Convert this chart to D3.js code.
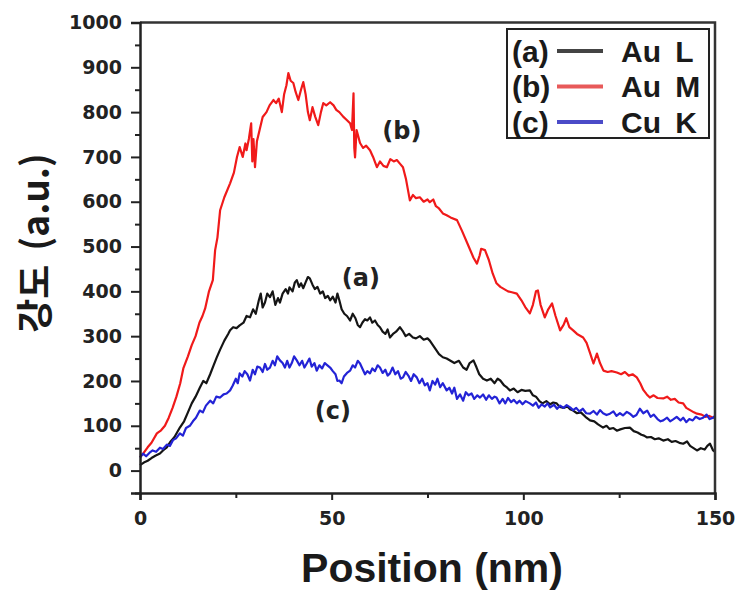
<!DOCTYPE html>
<html>
<head>
<meta charset="utf-8">
<script src="https://cdn.jsdelivr.net/npm/d3@7"></script>
<style>
  body { margin: 0; background: #fff; }
  svg { display: block; }
  .tick-label { font-family: "DejaVu Sans", sans-serif; font-weight: bold; font-size: 19px; fill: #222; }
</style>
</head>
<body>
<svg width="741" height="596"></svg>
<script>
// series: [position nm, intensity a.u.]
var seriesNames = ["(a)", "(b)", "(c)"];
var seriesLabels = ["Au L", "Au M", "Cu K"];
var seriesColors = ["#151515", "#f01a1a", "#2323d6"];
var legendColors = ["#444444", "#e85a5a", "#4b4bc8"];

var auL = [[0,12],[1,18],[2,22],[3,28],[4,33],[5.2,38],[6,45],[7,52],[8,65],[9,75],[10.4,96],[11.5,110],[12.5,130],[13.5,150],[14.5,165],[15.6,185],[16.5,200],[17.3,195],[18.3,215],[19.2,235],[20,252],[20.9,270],[22,290],[23,305],[23.5,313],[24.3,320],[25.2,318],[26,324],[27,330],[27.8,345],[28.7,342],[29.5,360],[30.2,350],[31,380],[31.5,395],[32,364],[32.6,375],[33.2,395],[33.9,387],[34.6,400],[35.3,370],[36,385],[36.5,375],[37.2,395],[38,405],[38.6,395],[39,409],[39.8,400],[40.4,420],[40.9,425],[41.5,410],[42,418],[42.6,407],[43.2,420],[43.8,432],[44.3,429],[45,415],[45.6,405],[46.3,410],[47,395],[47.7,400],[48.3,385],[49,390],[49.6,380],[50.3,388],[51,375],[51.5,395],[52,380],[52.6,360],[53.3,350],[54,345],[54.8,335],[55.5,350],[56.2,340],[56.8,325],[57.4,320],[58,330],[58.7,338],[59.3,335],[60,342],[60.6,330],[61.3,335],[62,325],[62.6,320],[63.3,310],[64,305],[64.6,315],[65.2,297],[66,305],[66.8,310],[67.8,320],[68.5,312],[69.3,300],[70.2,305],[71.2,297],[72,295],[73,300],[74,292],[75,295],[75.6,290],[76.4,280],[77.2,270],[78,260],[79,253],[80,250],[81,245],[82,240],[83.2,245],[84.3,230],[85.2,225],[86,240],[87,246],[87.8,230],[88.5,215],[89.5,205],[90.5,201],[91.5,205],[92.5,195],[93.3,205],[94,201],[95,190],[95.8,185],[96.5,179],[97.5,183],[98.5,175],[99.5,180],[100.5,178],[101.7,179],[102.5,168],[103.3,165],[104.2,155],[105,150],[106,155],[107,148],[107.8,152],[108.7,150],[109.5,142],[110.5,140],[111.5,143],[112.2,137],[113,134],[114,128],[115,130],[116.2,120],[117.4,112],[118.5,110],[119.5,103],[120.8,96],[121.7,100],[122.5,93],[123.5,95],[124.4,89],[125.3,92],[126.5,95],[127.8,96],[128.8,88],[129.8,85],[130.8,80],[131.5,78],[132.3,74],[133.3,75],[134.3,70],[135.3,72],[136.5,67],[137.7,70],[138.7,64],[139.7,66],[140.7,62],[141.7,60],[142.7,65],[143.5,55],[144.4,50],[145.3,45],[146.3,50],[147.3,47],[148,55],[148.7,60],[149.5,45],[150,42]];

var auM = [[0,30],[1,40],[2,52],[3,62],[4.4,83],[5.5,90],[6.5,100],[7.5,118],[8.5,140],[9.5,165],[10.5,195],[11.3,228],[12.5,255],[13.5,280],[14.5,300],[15.5,330],[16.3,345],[17,362],[18,400],[19,425],[19.6,492],[20.2,520],[20.9,581],[22,610],[23.5,641],[24.5,665],[25.3,700],[26,722],[26.8,700],[27.5,730],[27.8,715],[28.4,740],[29,775],[29.3,690],[29.6,740],[30,677],[30.5,735],[31.2,760],[32,789],[33,800],[33.8,815],[34.8,827],[35.5,820],[36.2,830],[37,800],[37.6,840],[38.2,860],[38.7,887],[39.3,870],[40,865],[40.6,845],[41.3,827],[42,850],[42.6,867],[43.2,840],[43.8,800],[44.3,782],[45,811],[45.7,790],[46.5,771],[47.2,800],[47.8,820],[48.6,815],[49.6,822],[50.5,815],[51.2,805],[52,800],[53,790],[54,782],[54.8,775],[55.3,760],[55.7,842],[55.9,720],[56.1,699],[56.5,760],[57.4,731],[58.2,720],[59,725],[60,715],[60.8,700],[61.8,677],[62.6,690],[63.5,680],[64.4,677],[65.3,695],[66.2,690],[67,693],[67.8,685],[68.6,677],[69.4,650],[70.4,603],[71.2,615],[72,608],[73,610],[74,600],[75,605],[75.6,599],[76.5,605],[77.2,590],[78,585],[79,574],[80,570],[81,565],[82.7,559],[84,535],[85.5,505],[87,475],[87.9,462],[88.6,480],[89,495],[90,492],[91,470],[92,440],[93,418],[94,410],[95,405],[96,400],[97,398],[98.3,395],[99.5,380],[100.5,365],[101.7,351],[102.5,370],[103.3,400],[103.8,402],[104.5,370],[105.6,342],[106.5,360],[107.5,373],[108.4,345],[109.6,313],[110.5,325],[111.2,340],[112,320],[113,313],[114,305],[115.6,297],[116.5,285],[117.5,260],[118.3,239],[119.2,261],[120,240],[120.9,223],[122,220],[123,222],[124.4,219],[125.5,215],[126.5,220],[127.5,212],[128.5,215],[129.6,208],[130.5,195],[131.3,180],[132.2,170],[133,163],[134,168],[135,162],[136.5,161],[137.5,165],[138.5,158],[139.5,160],[140.5,152],[141.7,150],[142.5,140],[143.5,135],[144.5,130],[145.3,127],[146.5,125],[147.5,120],[148.5,122],[149.5,118],[150,120]];

var cuK = [[0,29],[0.8,38],[1.6,32],[2.5,40],[3.3,45],[4.2,42],[5.2,51],[6,48],[7,58],[7.8,55],[8.6,68],[9.4,72],[10.4,83],[11.2,78],[12,95],[13,100],[13.8,110],[14.6,118],[15.6,134],[16.4,130],[17.2,145],[18.3,156],[19.1,150],[19.9,165],[20.9,163],[21.8,170],[22.6,172],[23.5,179],[24.2,190],[25,205],[25.5,195],[26,217],[26.7,210],[27.3,222],[28,215],[28.7,201],[29.4,225],[30,215],[30.6,232],[31.3,230],[32,220],[32.6,238],[33.2,225],[33.9,230],[34.6,245],[35.2,235],[35.8,255],[36.5,246],[37.2,240],[37.8,230],[38.4,245],[39,230],[39.6,240],[40.2,255],[40.9,246],[41.6,235],[42.3,245],[42.9,230],[43.5,239],[44.2,250],[44.8,232],[45.5,240],[46.1,223],[46.8,235],[47.5,228],[48.2,240],[48.9,235],[49.6,230],[50.3,222],[51,215],[51.5,200],[52,201],[52.6,195],[53.2,210],[54,218],[54.8,223],[55.5,235],[56.1,230],[56.8,245],[57.4,239],[58,228],[58.7,215],[59.3,222],[60,217],[60.6,228],[61.3,222],[62,235],[62.6,230],[63.3,218],[64,225],[64.6,212],[65.2,217],[65.9,230],[66.6,215],[67.3,222],[68,205],[68.6,208],[69.3,220],[70,212],[70.7,200],[71.4,215],[72.2,208],[72.9,195],[73.6,205],[74.3,190],[75,195],[75.6,179],[76.3,200],[77,192],[77.6,205],[78.3,186],[79,195],[80,179],[80.7,185],[81.4,172],[82,185],[82.7,160],[83.5,170],[84.3,156],[85,175],[85.7,168],[86.5,172],[87.2,160],[88,168],[88.7,163],[89.5,170],[90.3,158],[91,168],[91.8,160],[92.5,165],[93,163],[93.8,150],[94.6,160],[95.3,150],[96,162],[96.8,153],[97.5,158],[98.3,150],[99,156],[99.8,148],[100.6,155],[101.7,150],[102.5,145],[103.3,152],[104,140],[104.8,148],[105.6,143],[106.3,150],[107,141],[108,147],[108.8,138],[109.6,145],[110.5,140],[111.3,146],[112.2,141],[113,135],[113.8,140],[114.6,132],[115.5,138],[116.4,128],[117.4,127],[118.3,133],[119.2,125],[120,135],[120.8,128],[121.7,124],[122.6,127],[123.5,132],[124.3,122],[125.2,128],[126,123],[127,131],[127.8,127],[128.7,120],[129.5,124],[130.4,138],[131.3,128],[132.3,134],[133.2,120],[134,125],[135,115],[135.8,110],[136.5,112],[137.5,118],[138.3,110],[139.2,115],[140,120],[141,112],[141.7,118],[142.5,108],[143.3,115],[144.2,112],[145,120],[146,115],[146.9,118],[147.8,125],[148.6,115],[149.5,118],[150,122]];

var xTicks = [0, 50, 100, 150];
var xMinor = [25, 75, 125];
var yTicks = [0, 100, 200, 300, 400, 500, 600, 700, 800, 900, 1000];
var yMinor = [-50, 50, 150, 250, 350, 450, 550, 650, 750, 850, 950];

// curve tags inside the plot: [position, intensity]
var tagSpots = [[57.6, 431], [68.3, 758], [50.3, 134]];

var svg = d3.select("svg");
var margin = {left: 140, top: 22.5, right: 26, bottom: 103};
var width = 741 - margin.left - margin.right,
    height = 596 - margin.top - margin.bottom;

var x = d3.scaleLinear().domain([0, 150]).range([margin.left, margin.left + width]);
var y = d3.scaleLinear().domain([-50, 1000]).range([margin.top + height, margin.top]);

// lines
var line = d3.line()
    .x(function (d) { return x(d[0]); })
    .y(function (d) { return y(d[1]); });

[auM, auL, cuK].forEach(function (s, i) {
    var idx = [1, 0, 2][i];
    svg.append("path")
        .datum(s)
        .attr("fill", "none")
        .attr("stroke", seriesColors[idx])
        .attr("stroke-width", 2.2)
        .attr("stroke-linejoin", "round")
        .attr("d", line);
});

// frame (top + right)
svg.append("path")
    .attr("d", "M" + x(0) + "," + y(1000) + "H" + x(150) + "V" + y(-50))
    .attr("fill", "none")
    .attr("stroke", "#333")
    .attr("stroke-width", 2.5);

// x axis
svg.append("g")
    .attr("transform", "translate(0," + y(-50) + ")")
    .call(d3.axisBottom(x).tickValues(xTicks).tickSize(7).tickPadding(12).tickFormat(d3.format("d")));
svg.append("g")
    .attr("transform", "translate(0," + y(-50) + ")")
    .call(d3.axisBottom(x).tickValues(xMinor).tickSize(5).tickFormat(""))
    .select(".domain").remove();

// y axis
svg.append("g")
    .attr("transform", "translate(" + x(0) + ",0)")
    .call(d3.axisLeft(y).tickValues(yTicks).tickSize(9).tickPadding(9).tickFormat(d3.format("d")));
svg.append("g")
    .attr("transform", "translate(" + x(0) + ",0)")
    .call(d3.axisLeft(y).tickValues(yMinor).tickSize(5).tickFormat(""))
    .select(".domain").remove();

svg.selectAll(".domain").attr("stroke", "#222").attr("stroke-width", 2.5);
svg.selectAll(".tick line").attr("stroke", "#222").attr("stroke-width", 2);
svg.selectAll(".tick text").attr("class", "tick-label").attr("font-family", null).attr("font-size", null);

// axis titles
svg.append("text")
    .attr("x", 432)
    .attr("y", 582)
    .attr("text-anchor", "middle")
    .attr("font-family", "Liberation Sans, sans-serif")
    .attr("font-weight", "bold")
    .attr("font-size", 41)
    .attr("fill", "#1a1a1a")
    .text("Position (nm)");

var yTitle = svg.append("text")
    .attr("transform", "translate(49,243) rotate(-90)")
    .attr("text-anchor", "middle")
    .attr("font-family", "Noto Sans CJK KR, sans-serif")
    .attr("font-weight", "bold")
    .attr("font-size", 37)
    .attr("fill", "#1a1a1a");
yTitle.append("tspan").text("강도");
yTitle.append("tspan").attr("dx", 14).text("(a.u.)");

// curve tags
svg.selectAll(".tag")
    .data(tagSpots)
    .enter().append("text")
    .attr("class", "tag")
    .attr("x", function (d) { return x(d[0]); })
    .attr("y", function (d) { return y(d[1]); })
    .attr("dy", "0.35em")
    .attr("text-anchor", "middle")
    .attr("font-family", "DejaVu Sans, sans-serif")
    .attr("font-weight", "bold")
    .attr("font-size", 24)
    .attr("fill", "#222")
    .text(function (d, i) { return seriesNames[i]; });

// legend
var legend = svg.append("g").attr("transform", "translate(507,29)");
legend.append("rect")
    .attr("width", 202).attr("height", 109)
    .attr("fill", "#fff").attr("stroke", "#222").attr("stroke-width", 2);

var rows = legend.selectAll(".row")
    .data(seriesNames)
    .enter().append("g")
    .attr("class", "row")
    .attr("transform", function (d, i) { return "translate(0," + (22 + i * 35.5) + ")"; });

rows.append("text")
    .attr("x", 5)
    .attr("dy", "0.35em")
    .attr("font-family", "Liberation Sans, sans-serif")
    .attr("font-weight", "bold")
    .attr("font-size", 30)
    .attr("fill", "#1a1a1a")
    .text(function (d) { return d; });

rows.append("line")
    .attr("x1", 50).attr("x2", 96)
    .attr("stroke", function (d, i) { return legendColors[i]; })
    .attr("stroke-width", 4);

rows.append("text")
    .attr("x", 114)
    .attr("dy", "0.35em")
    .attr("font-family", "Liberation Sans, sans-serif")
    .attr("font-weight", "bold")
    .attr("font-size", 30)
    .attr("fill", "#1a1a1a")
    .text(function (d, i) { return seriesLabels[i].replace(" ", "\u2009 "); });
</script>
</body>
</html>
